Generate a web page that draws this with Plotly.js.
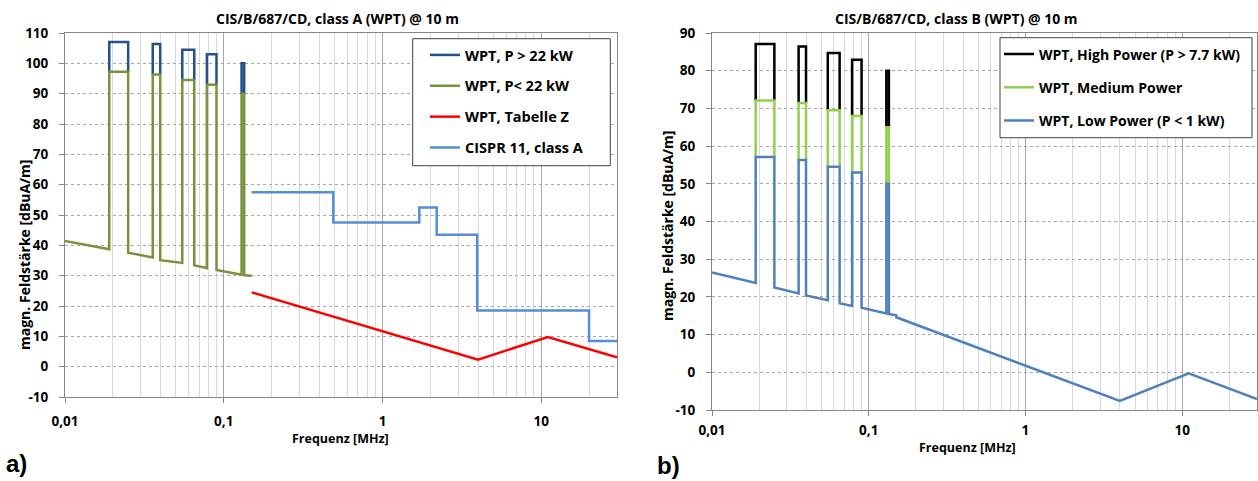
<!DOCTYPE html>
<html><head><meta charset="utf-8">
<script src="https://cdn.plot.ly/plotly-3.0.1.min.js"></script>
<style>html,body{margin:0;padding:0;background:#fff}#chart{width:1258px;height:481px}</style>
</head><body><div id="chart"></div>
<script>
// ---------- data (frequencies in MHz, levels in dBuA/m) ----------
const notchLo = [0.019, 0.0357, 0.0548, 0.0783, 0.1295];
const notchHi = [0.025, 0.0398, 0.0652, 0.0900, 0.1345];

// chart a) class A
const baseA_startF = 0.01,  baseA_startV = 41.4;
const baseA_atLo = [38.7, 36.0, 34.2, 32.5, 30.3];
const baseA_atHi = [37.6, 35.1, 33.4, 31.9, 30.2];
const baseA_endF = 0.15,    baseA_endV = 29.9;
const lowTopA  = [97.2, 96.3, 94.5, 92.9, 90];
const highTopA = [107, 106.4, 104.5, 103, 100];
const tabZ_f = [0.15, 4, 11, 30];
const tabZ_v = [24.5, 2.3, 9.8, 3.1];
const cispr_f = [0.15, 0.49, 1.705, 2.194, 3.95, 20, 30];
const cispr_v = [57.5, 47.5, 52.5, 43.5, 18.5, 8.5, 8.5];

// chart b) class B
const baseB_startF = 0.01,  baseB_startV = 26.5;
const baseB_atLo = [23.7, 20.9, 19.1, 17.6, 15.6];
const baseB_atHi = [22.5, 20.4, 18.3, 17.1, 15.5];
const tailB_f = [0.15, 0.15, 4, 11, 30];
const tailB_v = [15.1, 14.6, -7.6, -0.3, -7.1];
const lowTopB  = [57.1, 56.3, 54.5, 53.0, 50];
const medTopB  = [72.1, 71.4, 69.5, 68.0, 65];
const highTopB = [87.1, 86.4, 84.7, 82.9, 80];

const majorTicks = [0.01, 0.1, 1, 10];
const majorText  = ['<b>0,01</b>', '<b>0,1</b>', '<b>1</b>', '<b>10</b>'];

// ---------- helpers building paths from the arrays ----------
function notchedLine(f0, v0, atLo, atHi, tops, tailF, tailV) {
  const x = [f0], y = [v0];
  for (let i = 0; i < notchLo.length; i++) {
    x.push(notchLo[i], notchLo[i], notchHi[i], notchHi[i]);
    y.push(atLo[i], tops[i], tops[i], atHi[i]);
  }
  for (let j = 0; j < tailF.length; j++) { x.push(tailF[j]); y.push(tailV[j]); }
  return {x, y};
}
function openRects(bottoms, tops) {
  const x = [], y = [];
  for (let i = 0; i < notchLo.length; i++) {
    if (i) { x.push(null); y.push(null); }
    x.push(notchLo[i], notchLo[i], notchHi[i], notchHi[i]);
    y.push(bottoms[i], tops[i], tops[i], bottoms[i]);
  }
  return {x, y};
}

const FONT = '"Open Sans", "Noto Sans", sans-serif';
const LW = 2.5;
const B = s => '<b>' + s + '</b>';

const greenA = notchedLine(baseA_startF, baseA_startV, baseA_atLo, baseA_atHi, lowTopA, [baseA_endF], [baseA_endV]);
const blueA  = openRects(lowTopA, highTopA);
const lowB   = notchedLine(baseB_startF, baseB_startV, baseB_atLo, baseB_atHi, lowTopB, tailB_f, tailB_v);
const medB   = openRects(lowTopB, medTopB);
const highB  = openRects(medTopB, highTopB);

const traces = [
  {x: blueA.x, y: blueA.y, name: B('WPT, P &gt; 22 kW'), mode: 'lines', line: {color: '#24508C', width: LW}, connectgaps: false, xaxis: 'x', yaxis: 'y', legend: 'legend', legendgroup: 'a1'},
  {x: greenA.x, y: greenA.y, name: B('WPT, P&lt; 22 kW'), mode: 'lines', line: {color: '#77933C', width: LW}, xaxis: 'x', yaxis: 'y', legend: 'legend', legendgroup: 'a2'},
  {x: tabZ_f, y: tabZ_v, name: B('WPT, Tabelle Z'), mode: 'lines', line: {color: '#FF0000', width: LW}, xaxis: 'x', yaxis: 'y', legend: 'legend', legendgroup: 'a3'},
  {x: cispr_f, y: cispr_v, name: B('CISPR 11, class A'), mode: 'lines', line: {color: '#558ED5', width: LW, shape: 'hv'}, xaxis: 'x', yaxis: 'y', legend: 'legend', legendgroup: 'a4'},
  {x: highB.x, y: highB.y, name: B('WPT, High Power (P &gt; 7.7 kW)'), mode: 'lines', line: {color: '#000000', width: LW}, xaxis: 'x2', yaxis: 'y2', legend: 'legend2', legendgroup: 'b1'},
  {x: medB.x, y: medB.y, name: B('WPT, Medium Power'), mode: 'lines', line: {color: '#92D050', width: LW}, xaxis: 'x2', yaxis: 'y2', legend: 'legend2', legendgroup: 'b2'},
  {x: lowB.x, y: lowB.y, name: B('WPT, Low Power (P &lt; 1 kW)'), mode: 'lines', line: {color: '#4F81BD', width: LW}, xaxis: 'x2', yaxis: 'y2', legend: 'legend2', legendgroup: 'b3'}
];

const W = 1258, H = 481;
const px = v => v / W, py = v => 1 - v / H;
const tickFont = {family: FONT, size: 13.5, color: '#000', weight: 'bold'};

function xAxis(dom, standoff) {
  return {type: 'log', range: [-2, Math.log10(30)], domain: dom, tickmode: 'array', tickvals: majorTicks, ticktext: majorText,
    showgrid: true, gridcolor: '#A6A6A6', gridwidth: 1,
    minor: {dtick: 'D1', showgrid: true, gridcolor: '#D9D9D9', gridwidth: 1, ticks: ''},
    showline: true, linecolor: '#868686', linewidth: 1, mirror: true, ticks: 'outside', ticklen: 5, tickcolor: '#868686',
    zeroline: false, tickfont: tickFont, ticklabelstandoff: standoff, automargin: false};
}
function yAxis(dom, r, anchor) {
  const vals = [], txt = [];
  for (let v = r[0]; v <= r[1]; v += 10) { vals.push(v); txt.push(B(String(v))); }
  return {range: r, domain: dom, tickmode: 'array', tickvals: vals, ticktext: txt, showgrid: true, gridcolor: '#A6A6A6', gridwidth: 1, griddash: '3px,3px',
    showline: true, linecolor: '#868686', linewidth: 1, mirror: true, ticks: 'outside', ticklen: 5, tickcolor: '#868686',
    zeroline: false, tickfont: tickFont, ticklabelstandoff: 8, automargin: false, anchor: anchor};
}

const ann = (text, x, y, size, opts) => Object.assign({text: B(text), x: px(x), y: py(y), xref: 'paper', yref: 'paper', showarrow: false,
  xanchor: 'center', yanchor: 'middle', font: {family: FONT, size: size, color: '#000', weight: 'bold'}}, opts || {});

const layout = {
  width: W, height: H, margin: {l: 0, r: 0, t: 0, b: 0}, paper_bgcolor: '#fff', plot_bgcolor: '#fff',
  showlegend: true,
  xaxis: Object.assign(xAxis([px(65), px(617)], 7), {anchor: 'y'}),
  yaxis: yAxis([py(397), py(33)], [-10, 110], 'x'),
  xaxis2: Object.assign(xAxis([px(712), px(1257)], 3), {anchor: 'y2'}),
  yaxis2: yAxis([py(410), py(33)], [-10, 90], 'x2'),
  legend: {x: px(425), xanchor: 'left', y: py(39), yanchor: 'top', bgcolor: 'rgba(0,0,0,0)', borderwidth: 0,
    font: {family: FONT, size: 14.5, color: '#000', weight: 'bold'}, tracegroupgap: 9},
  legend2: {x: px(999), xanchor: 'left', y: py(38.5), yanchor: 'top', bgcolor: 'rgba(0,0,0,0)', borderwidth: 0,
    font: {family: FONT, size: 14, color: '#000', weight: 'bold'}, tracegroupgap: 12},
  shapes: [
    {type: 'rect', xref: 'paper', yref: 'paper', x0: px(412.7), x1: px(610.3), y0: py(165.7), y1: py(38.7),
      line: {color: '#404040', width: 1}, fillcolor: '#fff', layer: 'above'},
    {type: 'rect', xref: 'paper', yref: 'paper', x0: px(1000), x1: px(1252), y0: py(137.7), y1: py(37.7),
      line: {color: '#404040', width: 1}, fillcolor: '#fff', layer: 'above'}
  ],
  annotations: [
    ann('CIS/B/687/CD, class A (WPT) @ 10 m', 337, 18, 14),
    ann('CIS/B/687/CD, class B (WPT) @ 10 m', 956, 18, 14),
    ann('Frequenz [MHz]', 340.5, 438, 12.5),
    ann('Frequenz [MHz]', 967.5, 447, 12.5),
    ann('magn. Feldstärke [dBuA/m]', 24, 255, 14, {textangle: -90}),
    ann('magn. Feldstärke [dBuA/m]', 667, 226, 14, {textangle: -90}),
    ann('a)', 4, 463, 24, {xanchor: 'left', font: {family: 'Liberation Sans, Arial, sans-serif', size: 24, color: '#000', weight: 'bold'}}),
    ann('b)', 655, 465, 24, {xanchor: 'left', font: {family: 'Liberation Sans, Arial, sans-serif', size: 24, color: '#000', weight: 'bold'}})
  ]
};

Plotly.newPlot('chart', traces, layout, {displayModeBar: false, staticPlot: true});
</script>
</body></html>
